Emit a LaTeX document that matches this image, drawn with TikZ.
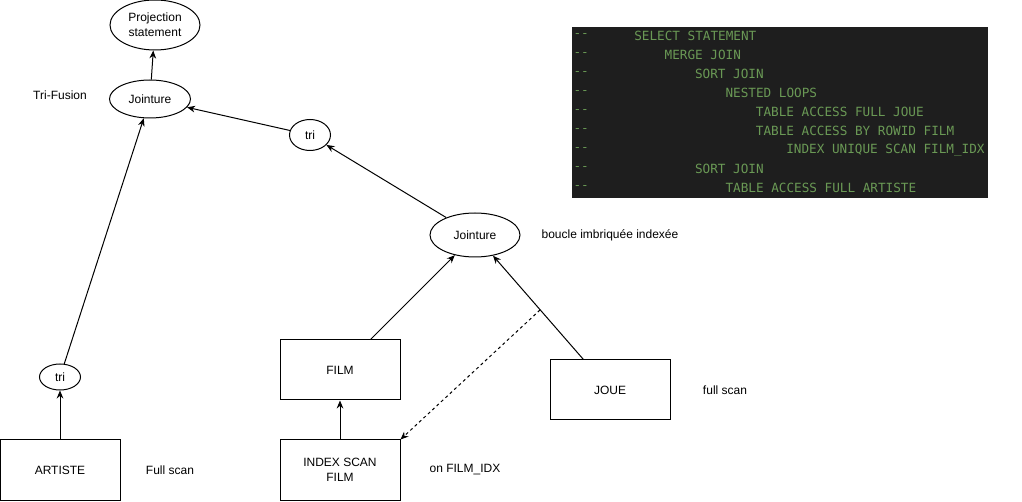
\documentclass[tikz,border=0pt]{standalone}
\usepackage{fontspec}
\setmainfont{Liberation Sans}
\newfontfamily\codefont{DejaVu Sans Mono}
\usetikzlibrary{shapes.geometric,arrows.meta}
\definecolor{codebg}{HTML}{1E1E1E}
\definecolor{codegreen}{HTML}{6A9955}
\tikzset{
  oval/.style={ellipse,draw,inner sep=0pt,align=center},
  table/.style={rectangle,draw,minimum width=90pt,minimum height=45pt,align=center},
  link/.style={-{Stealth[length=6pt,width=5pt]}},
  code/.style={anchor=west,inner sep=0pt,text=codegreen,font=\codefont\fontsize{9.5}{11}\selectfont}
}
\begin{document}
\begin{tikzpicture}[x=0.75pt,y=-0.75pt,line width=0.75pt,font=\fontsize{9}{11}\selectfont]
\useasboundingbox (0,0) rectangle (1022,502);
\node[oval,minimum width=67.5pt,minimum height=37.5pt] (proj) at (155,25) {Projection\\statement};
\node[oval,minimum width=60.75pt,minimum height=28.5pt] (jtop) at (150,99) {Jointure};
\node[oval,minimum width=30.75pt,minimum height=23.25pt] (triA) at (310,135) {tri};
\node[oval,minimum width=67.5pt,minimum height=33pt] (jmid) at (475,235) {Jointure};
\node[oval,minimum width=30.75pt,minimum height=19.5pt] (triB) at (60,377) {tri};
\node[table] (film) at (340,370) {FILM};
\node[table] (joue) at (610,390) {JOUE};
\node[table] (idx) at (340,470) {INDEX SCAN\\FILM};
\node[table] (artiste) at (60,470) {ARTISTE};
\node (trifusion) at (60,95) {Tri-Fusion};
\node (boucle) at (610,235) {boucle imbriquée indexée};
\node (fullJ) at (725,390) {full scan};
\node (onidx) at (465,470) {on FILM\_IDX};
\node (fullA) at (170,470) {Full scan};
\draw[link] (artiste) -- (triB);
\draw[link] (triB) -- (jtop);
\draw[link] (triA) -- (jtop);
\draw[link] (jtop) -- (proj);
\draw[link] (jmid) -- (triA);
\draw[link] (film) -- (jmid);
\draw[link] (joue) -- (jmid);
\draw[link] (idx) -- (film);
\coordinate (hint) at (540,310);
\draw[link,dash pattern=on 2.25pt off 2.25pt] (hint) -- (idx.north east);
\fill[codebg] (572,27) rectangle (988,198);
\foreach \c/\t [count=\i from 0] in {8/SELECT STATEMENT,12/MERGE JOIN,16/SORT JOIN,20/NESTED LOOPS,24/TABLE ACCESS FULL JOUE,24/TABLE ACCESS BY ROWID FILM,28/INDEX UNIQUE SCAN FILM\_IDX,16/SORT JOIN,20/TABLE ACCESS FULL ARTISTE}{
  \node[code] (dash\i) at (573,36+19*\i) {-{}-};
  \node[code] (plan\i) at (573+7.6*\c,36+19*\i) {\t};
}
\end{tikzpicture}
\end{document}
